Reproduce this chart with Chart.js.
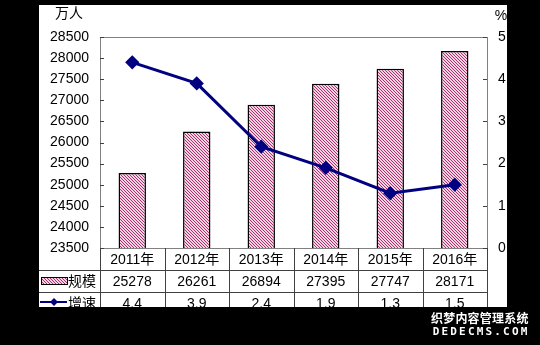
<!DOCTYPE html>
<html>
<head>
<meta charset="utf-8">
<script src="https://cdn.jsdelivr.net/npm/chart.js"></script>
<style>
  body { margin: 0; background: #000; }
</style>
</head>
<body>
<canvas id="scaleChart" width="540" height="345"></canvas>
<script>
const years = ["2011年", "2012年", "2013年", "2014年", "2015年", "2016年"];
const scaleValues = [25278, 26261, 26894, 27395, 27747, 28171];
const growthValues = [4.4, 3.9, 2.4, 1.9, 1.3, 1.5];
const seriesNames = ["规模", "增速"];
const unitLeft = "万人";
const unitRight = "%";
const leftAxis = { min: 23500, max: 28500, step: 500 };
const rightAxis = { min: 0, max: 5, step: 1 };
const watermark = ["织梦内容管理系统", "DEDECMS.COM"];

const FONT = '"Liberation Sans", "Noto Sans CJK SC", sans-serif';
const NAVY = "#000080";
const panel = { left: 39, top: 5, right: 507, bottom: 307 };

const canvas = document.getElementById("scaleChart");
const ctx0 = canvas.getContext("2d");

// pink "\" hatching for the bars
function hatch() {
  const c = document.createElement("canvas");
  c.width = 3; c.height = 3;
  const g = c.getContext("2d");
  g.fillStyle = "#f4d2e4";
  g.fillRect(0, 0, 3, 3);
  g.fillStyle = "#a8336f";
  for (let i = 0; i < 3; i++) g.fillRect(i, i, 1, 1);
  return ctx0.createPattern(c, "repeat");
}
const barFill = hatch();

const frame = {
  id: "frame",
  beforeDraw(chart) {
    const ctx = chart.ctx;
    ctx.save();
    ctx.fillStyle = "#000";
    ctx.fillRect(0, 0, chart.width, chart.height);
    ctx.fillStyle = "#fff";
    ctx.fillRect(panel.left, panel.top, panel.right - panel.left, panel.bottom - panel.top);
    ctx.restore();
  },
  beforeDatasetsDraw(chart) {
    const ctx = chart.ctx;
    const a = chart.chartArea;
    ctx.save();
    ctx.strokeStyle = "#808080";
    ctx.lineWidth = 1;
    ctx.strokeRect(a.left + 0.5, a.top + 0.5, a.right - a.left, a.bottom - a.top);
    // small inner ticks on both value axes
    ctx.strokeStyle = "#404040";
    chart.scales.y.ticks.forEach(t => {
      const y = Math.round(chart.scales.y.getPixelForValue(t.value)) + 0.5;
      ctx.beginPath(); ctx.moveTo(a.left, y); ctx.lineTo(a.left + 4, y); ctx.stroke();
    });
    chart.scales.y1.ticks.forEach(t => {
      const y = Math.round(chart.scales.y1.getPixelForValue(t.value)) + 0.5;
      ctx.beginPath(); ctx.moveTo(a.right - 4, y); ctx.lineTo(a.right, y); ctx.stroke();
    });
    ctx.fillStyle = "#000";
    ctx.font = "14px " + FONT;
    ctx.textAlign = "center";
    ctx.textBaseline = "middle";
    ctx.fillText(unitLeft, 69, 14);
    ctx.fillText(unitRight, 501, 16);
    ctx.restore();
  }
};

// data table under the plot, drawn from the same arrays
const dataTable = {
  id: "dataTable",
  afterDraw(chart) {
    const ctx = chart.ctx;
    const a = chart.chartArea;
    const xs = chart.scales.x;
    const half = (xs.getPixelForValue(1) - xs.getPixelForValue(0)) / 2;
    const rowH = 22;
    const r1 = a.bottom + rowH, r2 = a.bottom + 2 * rowH;

    ctx.save();
    ctx.beginPath();
    ctx.rect(panel.left, panel.top, panel.right - panel.left, panel.bottom - panel.top);
    ctx.clip();

    ctx.strokeStyle = "#404040";
    ctx.lineWidth = 1;
    [r1, r2].forEach(y => {
      ctx.beginPath(); ctx.moveTo(panel.left, y + 0.5); ctx.lineTo(a.right, y + 0.5); ctx.stroke();
    });
    for (let i = 0; i <= years.length; i++) {
      const x = Math.round(xs.getPixelForValue(0) - half + i * 2 * half) + 0.5;
      ctx.beginPath(); ctx.moveTo(x, a.bottom); ctx.lineTo(x, panel.bottom); ctx.stroke();
    }

    ctx.fillStyle = "#000";
    ctx.font = "14px " + FONT;
    ctx.textAlign = "center";
    ctx.textBaseline = "middle";
    years.forEach((yr, i) => {
      const x = xs.getPixelForValue(i);
      ctx.fillText(yr, x, a.bottom + rowH / 2 + 1);
      ctx.fillText(String(scaleValues[i]), x, r1 + rowH / 2 + 1);
      ctx.fillText(growthValues[i].toFixed(1), x, r2 + rowH / 2 + 1);
    });

    // legend keys in the first column
    ctx.fillStyle = barFill;
    ctx.fillRect(41, r1 + 7, 26, 7);
    ctx.strokeStyle = "#000";
    ctx.strokeRect(41.5, r1 + 7.5, 26, 7);
    ctx.strokeStyle = NAVY;
    ctx.lineWidth = 2;
    ctx.beginPath(); ctx.moveTo(40, r2 + 10); ctx.lineTo(67, r2 + 10); ctx.stroke();
    ctx.fillStyle = NAVY;
    ctx.beginPath();
    ctx.moveTo(54, r2 + 6); ctx.lineTo(58, r2 + 10); ctx.lineTo(54, r2 + 14); ctx.lineTo(50, r2 + 10);
    ctx.closePath(); ctx.fill();
    ctx.fillStyle = "#000";
    ctx.textAlign = "left";
    ctx.fillText(seriesNames[0], 68, r1 + rowH / 2 + 1);
    ctx.fillText(seriesNames[1], 68, r2 + rowH / 2 + 1);
    ctx.restore();

    // site mark, bottom right
    ctx.save();
    ctx.fillStyle = "#fff";
    ctx.textBaseline = "middle";
    ctx.textAlign = "center";
    ctx.font = 'bold 12px "Noto Sans CJK SC", sans-serif';
    [...watermark[0]].forEach((ch, i) => {
      ctx.fillText(ch, 437 + i * 12.2, 318);
    });
    ctx.font = 'bold 11px "DejaVu Sans Mono", monospace';
    [...watermark[1]].forEach((ch, i) => {
      ctx.fillText(ch, 436 + i * 8.8, 332);
    });
    ctx.restore();
  }
};

const plain = v => String(v);

new Chart(canvas, {
  data: {
    labels: years,
    datasets: [{
      type: "bar",
      label: seriesNames[0],
      data: scaleValues,
      yAxisID: "y",
      backgroundColor: barFill,
      borderColor: "#000",
      borderWidth: 1.5,
      barPercentage: 0.425,
      categoryPercentage: 1,
      order: 2
    }, {
      type: "line",
      label: seriesNames[1],
      data: growthValues,
      yAxisID: "y1",
      borderColor: NAVY,
      borderWidth: 3,
      pointStyle: "rectRot",
      pointRadius: 5,
      pointBackgroundColor: NAVY,
      pointBorderColor: NAVY,
      tension: 0,
      order: 1
    }]
  },
  options: {
    responsive: false,
    animation: false,
    layout: { padding: { top: 37, bottom: 97, left: 0, right: 0 } },
    plugins: { legend: { display: false }, tooltip: { enabled: false } },
    scales: {
      x: { type: "category", offset: true, display: false },
      y: {
        position: "left",
        min: leftAxis.min, max: leftAxis.max,
        grid: { display: false, drawTicks: false },
        border: { display: false },
        ticks: { stepSize: leftAxis.step, padding: 11, color: "#000", callback: plain, font: { size: 14, family: FONT } },
        afterFit(s) { s.width = 100; }
      },
      y1: {
        position: "right",
        min: rightAxis.min, max: rightAxis.max,
        grid: { display: false, drawTicks: false },
        border: { display: false },
        ticks: { stepSize: rightAxis.step, padding: 11, color: "#000", callback: plain, font: { size: 14, family: FONT } },
        afterFit(s) { s.width = 53; }
      }
    }
  },
  plugins: [frame, dataTable]
});
</script>
</body>
</html>
